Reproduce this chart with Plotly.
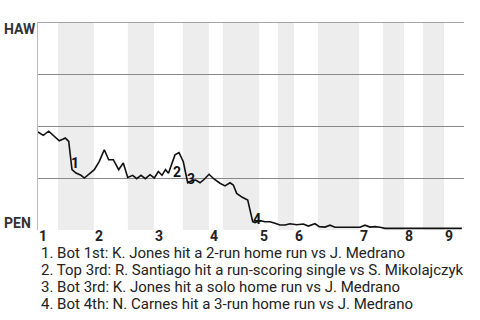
import plotly.graph_objects as go

# Game progress (0-100) and HAW win probability (%)
progress = [0, 1.24, 2.51, 3.59, 5.0, 5.8, 6.41, 7.21, 7.98, 8.92, 10.09, 10.87, 12.04, 13.22,
            14.39, 15.56, 16.6, 17.68, 18.94, 20.02, 21.06, 22.23, 23.17, 24.18, 25.19, 26.29,
            27.3, 28.24, 29.11, 29.93, 30.63, 31.38, 32.16, 33.1, 34.11, 34.67, 35.14, 36.08,
            37.02, 38.03, 39.04, 40.14, 41.38, 42.72, 43.9, 45.07, 45.85, 46.64, 47.96, 49.23,
            49.77, 50.4, 50.94, 52.11, 53.29, 54.46, 55.63, 56.81, 57.98, 59.15, 60.73, 62.28,
            63.45, 64.25, 65.02, 66.03, 67.37, 68.54, 69.72, 75.59, 76.76, 77.93, 79.11, 80.28,
            81.46, 99.5]
haw_win = [47.1, 45.5, 47.5, 45.5, 42.9, 43.6, 44.2, 42.6, 29.0, 27.4, 26.3, 25.0, 26.9, 29.0,
           33.0, 38.6, 33.8, 33.8, 29.0, 32.2, 25.3, 26.3, 24.7, 26.3, 24.7, 26.6,
           25.0, 28.1, 26.3, 29.0, 27.3, 32.1, 36.1, 37.2, 32.8, 27.3, 22.7, 23.7,
           24.0, 22.7, 24.4, 26.8, 24.4, 22.5, 21.2, 22.7, 21.6, 17.6, 15.7, 14.4,
           8.8, 4.0, 3.5, 4.5, 4.0, 4.0, 3.2, 2.4, 2.4, 3.0, 2.5, 2.9,
           1.9, 2.5, 3.0, 1.6, 1.4, 2.3, 1.3, 1.3, 2.3, 1.4, 1.6, 1.3,
           0.8, 0.8]

# half-inning boundaries (game progress)
half_starts = [0, 4.7, 13.1, 21.1, 27.2, 34.0, 40.1, 43.4, 51.9, 56.3, 60.1, 65.7, 75.4,
               81.0, 85.9, 90.4, 95.3, 100]
inning_labels = ["1", "2", "3", "4", "5", "6", "7", "8", "9"]

# key events: label, progress, win prob position, description
event_labels = ["1", "2", "3", "4"]
event_x = [8.8, 32.6, 35.8, 51.4]
event_y = [32.2, 27.9, 24.5, 5.3]
event_text = [
    "1. Bot 1st: K. Jones hit a 2-run home run vs J. Medrano",
    "2. Top 3rd: R. Santiago hit a run-scoring single vs S. Mikolajczyk",
    "3. Bot 3rd: K. Jones hit a solo home run vs J. Medrano",
    "4. Bot 4th: N. Carnes hit a 3-run home run vs J. Medrano",
]

team_top = "HAW"
team_bottom = "PEN"

fig = go.Figure()
fig.add_trace(go.Scatter(x=progress, y=haw_win, mode="lines",
                         line=dict(color="#111111", width=1.6), hoverinfo="skip"))

shapes = []
# shade bottom halves
for i in range(1, len(half_starts) - 1, 2):
    shapes.append(dict(type="rect", xref="x", yref="y", x0=half_starts[i], x1=half_starts[i + 1],
                       y0=0, y1=100, fillcolor="#ededed", line=dict(width=0), layer="below"))
shapes.append(dict(type="line", xref="paper", yref="y", x0=0, x1=1, y0=100, y1=100,
                   line=dict(color="#888888", width=1.5), layer="above"))
fig.update_layout(shapes=shapes)

ann = []
for i, lab in enumerate(inning_labels):
    ann.append(dict(x=half_starts[2 * i], y=0, xref="x", yref="paper", text=lab,
                    showarrow=False, xanchor="left", yanchor="middle", yshift=-6, xshift=-1,
                    font=dict(family="Roboto", size=14, color="#222222", weight="bold")))
for lab, ex, ey in zip(event_labels, event_x, event_y):
    ann.append(dict(x=ex, y=ey, xref="x", yref="y", text=lab, showarrow=False,
                    xanchor="center", yanchor="middle",
                    font=dict(family="Roboto", size=14, color="#111111", weight="bold")))
for i, t in enumerate(event_text):
    ann.append(dict(x=1 / 426, y=0, xref="paper", yref="paper", text=t, showarrow=False,
                    xanchor="left", yanchor="middle", yshift=-23 - 17 * i,
                    font=dict(family="Roboto", size=15, color="#222222")))
ann.append(dict(x=-36 / 426, y=1, xref="paper", yref="paper", text=team_top, showarrow=False,
                xanchor="left", yanchor="middle", yshift=-7,
                font=dict(family="Roboto", size=14, color="#333333", weight="bold")))
ann.append(dict(x=-36 / 426, y=0, xref="paper", yref="paper", text=team_bottom, showarrow=False,
                xanchor="left", yanchor="middle", yshift=7,
                font=dict(family="Roboto", size=14, color="#333333", weight="bold")))

fig.update_layout(
    width=480, height=320,
    margin=dict(l=38, r=16, t=22, b=90),
    paper_bgcolor="white", plot_bgcolor="white",
    showlegend=False,
    annotations=ann,
    xaxis=dict(range=[0, 100], showgrid=False, zeroline=False, showticklabels=False,
               ticks="", fixedrange=True),
    yaxis=dict(range=[0, 100], tickvals=[25, 50, 75], showgrid=True,
               gridcolor="#888888", gridwidth=1, zeroline=False, showticklabels=False,
               ticks="", showline=True, linecolor="#bbbbbb", linewidth=1, fixedrange=True),
)

fig.write_html("out.html", config={"displayModeBar": False})
